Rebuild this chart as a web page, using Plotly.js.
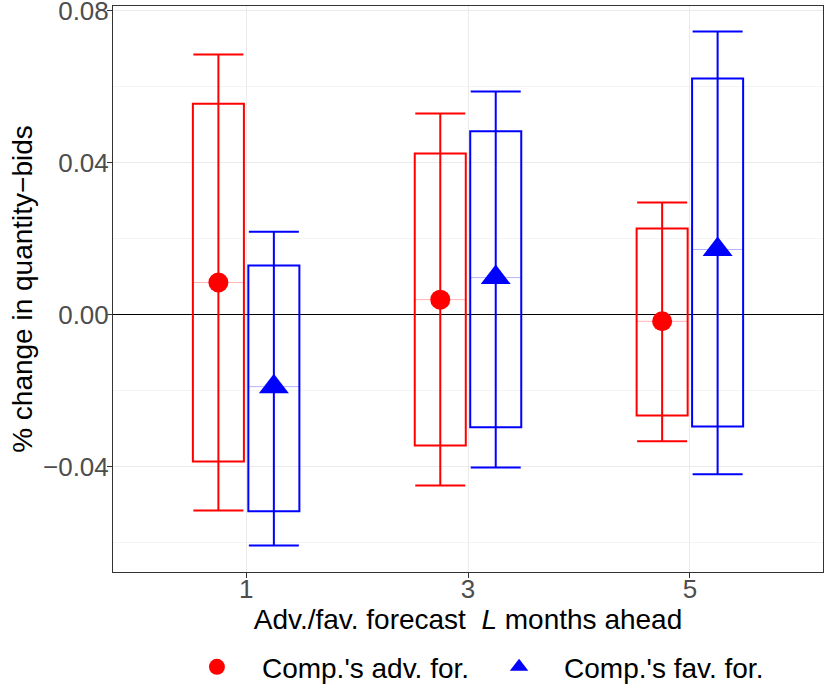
<!DOCTYPE html>
<html>
<head>
<meta charset="utf-8">
<script src="https://cdn.plot.ly/plotly-3.0.1.min.js"></script>
<style>
  html, body { margin: 0; padding: 0; background: #fff; }
  #chart { width: 830px; height: 692px; }
</style>
</head>
<body>
<div id="chart"></div>
<script>
/* ─── Data ─── */
const CATEGORIES = ['1', '3', '5'];

const ADV_POINT      = [0.0084, 0.0039, -0.0018];
const ADV_BOX_LOW    = [-0.0387, -0.0345, -0.0266];
const ADV_BOX_HIGH   = [0.0555, 0.0424, 0.0226];
const ADV_WHISK_LOW  = [-0.0516, -0.0450, -0.0334];
const ADV_WHISK_HIGH = [0.0684, 0.0529, 0.0295];

const FAV_POINT      = [-0.0190, 0.0097, 0.0171];
const FAV_BOX_LOW    = [-0.0518, -0.0297, -0.0295];
const FAV_BOX_HIGH   = [0.0129, 0.0482, 0.0621];
const FAV_WHISK_LOW  = [-0.0608, -0.0403, -0.0421];
const FAV_WHISK_HIGH = [0.0218, 0.0587, 0.0745];

const Y_TICKS = [-0.04, 0, 0.04, 0.08];
const Y_TICK_TEXT = ['\u22120.04', '0.00', '0.04', '0.08'];
const Y_MINOR = [-0.06, -0.02, 0.02, 0.06];

/* ─── Style ─── */
const FONT = '"Liberation Sans", Arial, sans-serif';
const DODGE = 0.125;
const BOX_W = 0.23;

const SERIES = [
  {
    name: "Comp.'s adv. for.", color: '#FF0000', faint: 'rgba(255,0,0,0.3)',
    symbol: 'circle', size: 20, shift: -DODGE,
    point: ADV_POINT, boxLow: ADV_BOX_LOW, boxHigh: ADV_BOX_HIGH,
    whiskLow: ADV_WHISK_LOW, whiskHigh: ADV_WHISK_HIGH,
  },
  {
    name: "Comp.'s fav. for.", color: '#0000FF', faint: 'rgba(0,0,255,0.3)',
    symbol: 'triangle-up', size: 26, shift: DODGE,
    point: FAV_POINT, boxLow: FAV_BOX_LOW, boxHigh: FAV_BOX_HIGH,
    whiskLow: FAV_WHISK_LOW, whiskHigh: FAV_WHISK_HIGH,
  },
];

const traces = [];

SERIES.forEach(s => {
  const xs = CATEGORIES.map((_, i) => i + 1 + s.shift);

  // box (unfilled rectangle)
  traces.push({
    type: 'bar',
    x: xs,
    base: s.boxLow,
    y: s.boxHigh.map((h, i) => h - s.boxLow[i]),
    width: BOX_W,
    marker: { color: 'rgba(0,0,0,0)', line: { color: s.color, width: 2 } },
    showlegend: false,
    hoverinfo: 'skip',
  });
});

SERIES.forEach(s => {
  const xs = CATEGORIES.map((_, i) => i + 1 + s.shift);

  // whiskers + faint middle line + point
  traces.push({
    type: 'scatter',
    mode: 'markers',
    name: s.name,
    x: xs,
    y: s.point,
    marker: { color: s.color, symbol: s.symbol, size: s.size },
    error_y: {
      type: 'data',
      symmetric: false,
      array: s.whiskHigh.map((v, i) => v - s.point[i]),
      arrayminus: s.point.map((v, i) => v - s.whiskLow[i]),
      color: s.color, thickness: 2, width: 25,
    },
    error_x: {
      type: 'data',
      array: s.point.map(() => BOX_W / 2),
      color: s.faint, thickness: 1, width: 0,
    },
  });
});

const AXIS_STYLE = {
  showline: true,
  mirror: true,
  linecolor: '#333333',
  linewidth: 1,
  ticks: 'outside',
  ticklen: 5,
  tickwidth: 1,
  tickcolor: '#333333',
  tickfont: { family: FONT, size: 26, color: '#4D4D4D' },
  ticklabeloverflow: 'allow',
  gridcolor: '#EBEBEB',
  gridwidth: 1,
  automargin: false,
};

const layout = {
  width: 830,
  height: 692,
  paper_bgcolor: '#FFFFFF',
  plot_bgcolor: '#FFFFFF',
  font: { family: FONT, size: 28, color: '#000000' },
  margin: { l: 113, r: 7, t: 6, b: 120, autoexpand: false },
  barmode: 'overlay',
  showlegend: true,
  legend: {
    orientation: 'h',
    x: 0.083, xanchor: 'left',
    yref: 'container',
    y: 0.036, yanchor: 'middle',
    font: { family: FONT, size: 28, color: '#000000' },
    itemwidth: 80,
  },
  xaxis: {
    ...AXIS_STYLE,
    range: [0.4, 3.6],
    tickvals: CATEGORIES.map((_, i) => i + 1),
    ticktext: CATEGORIES,
    ticklabelstandoff: -11,
    zeroline: false,
    title: { text: 'Adv./fav. forecast  <i>L</i> months ahead', font: { family: FONT, size: 28, color: '#000' }, standoff: 0 },
  },
  yaxis: {
    ...AXIS_STYLE,
    range: [-0.0678, 0.0812],
    tickvals: Y_TICKS,
    ticktext: Y_TICK_TEXT,
    ticklabelstandoff: -7,
    zeroline: true,
    zerolinecolor: '#000000',
    zerolinewidth: 1,
    minor: { tickvals: Y_MINOR, showgrid: true, gridcolor: '#F4F4F4', gridwidth: 1, ticks: '' },
    title: { text: '% change in quantity\u2212bids', font: { family: FONT, size: 28, color: '#000' }, standoff: 2 },
  },
};

Plotly.newPlot('chart', traces, layout, { displayModeBar: false, staticPlot: true });
</script>
</body>
</html>
